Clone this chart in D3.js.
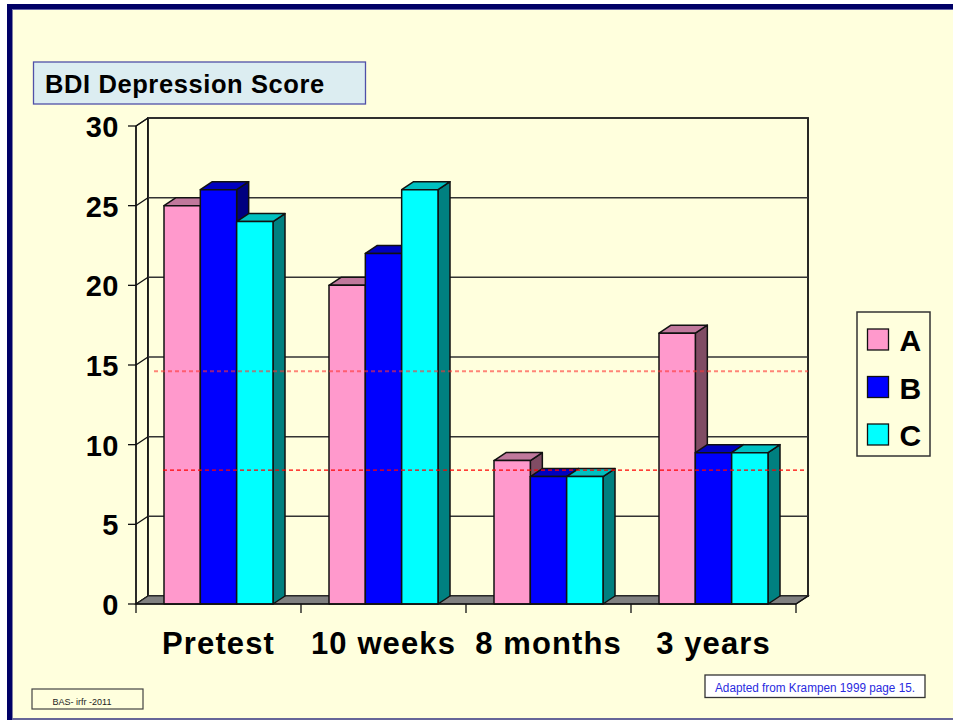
<!DOCTYPE html>
<html>
<head>
<meta charset="utf-8">
<script src="https://cdn.jsdelivr.net/npm/d3@7"></script>
<style>
  body { margin: 0; background: #fff; }
  svg { display: block; font-family: "Liberation Sans", Arial, sans-serif; }
</style>
</head>
<body>
<svg width="953" height="720"></svg>
<script>
// data
var categories = ["Pretest", "10 weeks", "8 months", "3 years"];
var seriesNames = ["A", "B", "C"];
var valuesA = [25, 20, 9, 17];
var valuesB = [26, 22, 8, 9.5];
var valuesC = [24, 26, 8, 9.5];
var yTicks = [0, 5, 10, 15, 20, 25, 30];
var refLines = [14.6, 8.4];

var frontColors = {A: "#ff99cc", B: "#0000ff", C: "#00ffff"};
var topColors = {A: "#c0789c", B: "#0000c0", C: "#00c0c0"};
var sideColors = {A: "#804c64", B: "#000080", C: "#008080"};

// 3d depth offset
var dx = 12, dy = -8;

var svg = d3.select("svg");

// frame
svg.append("rect").attr("x", 7).attr("y", 4).attr("width", 946).attr("height", 716).attr("fill", "#000066");
svg.append("rect").attr("x", 12.5).attr("y", 9).attr("width", 941).attr("height", 709).attr("fill", "#ffffdd");
svg.append("line").attr("x1", 12).attr("x2", 953).attr("y1", 719).attr("y2", 719)
    .attr("stroke", "#8888aa").attr("stroke-width", 1.5);
svg.append("line").attr("x1", 12.5).attr("x2", 953).attr("y1", 9.5).attr("y2", 9.5)
    .attr("stroke", "#6666aa").attr("stroke-width", 1);

var x = d3.scaleBand().domain(categories).range([136, 796]);
var xs = d3.scaleBand().domain(seriesNames).range([28, 137]);
var y = d3.scaleLinear().domain([0, 30]).range([604, 126]);

var x0 = x.range()[0], x1 = x.range()[1];

// walls
svg.append("polygon")
    .attr("points", [[x0, y(30)], [x0 + dx, y(30) + dy], [x0 + dx, y(0) + dy], [x0, y(0)]].join(" "))
    .attr("fill", "#ffffdd").attr("stroke", "#222").attr("stroke-width", 1.2);
svg.append("rect")
    .attr("x", x0 + dx).attr("y", y(30) + dy)
    .attr("width", x1 - x0).attr("height", y(0) - y(30))
    .attr("fill", "#ffffdd").attr("stroke", "#111").attr("stroke-width", 1.8);

// gridlines
yTicks.forEach(function(v) {
    svg.append("line")
        .attr("x1", x0 + dx).attr("x2", x1 + dx)
        .attr("y1", y(v) + dy).attr("y2", y(v) + dy)
        .attr("stroke", "#333").attr("stroke-width", 1.5);
    svg.append("line")
        .attr("x1", x0).attr("x2", x0 + dx)
        .attr("y1", y(v)).attr("y2", y(v) + dy)
        .attr("stroke", "#111").attr("stroke-width", 1.3);
    svg.append("line")
        .attr("x1", x0 - 8).attr("x2", x0)
        .attr("y1", y(v)).attr("y2", y(v))
        .attr("stroke", "#111").attr("stroke-width", 1.3);
    svg.append("text")
        .attr("x", 119).attr("y", y(v) + 11)
        .attr("text-anchor", "end")
        .attr("font-size", 29).attr("font-weight", "bold")
        .attr("letter-spacing", 0.5)
        .text(v);
});

// floor
svg.append("polygon")
    .attr("points", [[x0, y(0)], [x0 + dx, y(0) + dy], [x1 + dx, y(0) + dy], [x1, y(0)]].join(" "))
    .attr("fill", "#808080").attr("stroke", "#222").attr("stroke-width", 1.2);

// left axis line
svg.append("line").attr("x1", x0).attr("x2", x0).attr("y1", y(30)).attr("y2", y(0))
    .attr("stroke", "#111").attr("stroke-width", 1.5);

// bars
var allValues = {A: valuesA, B: valuesB, C: valuesC};
categories.forEach(function(cat, i) {
    seriesNames.forEach(function(s) {
        var v = allValues[s][i];
        var bx = x(cat) + xs(s), bw = xs.bandwidth();
        var by = y(v), bb = y(0);
        var g = svg.append("g").attr("stroke", "#111").attr("stroke-width", 1.5).attr("stroke-linejoin", "round");
        g.append("polygon")
            .attr("points", [[bx + bw, by], [bx + bw + dx, by + dy], [bx + bw + dx, bb + dy], [bx + bw, bb]].join(" "))
            .attr("fill", sideColors[s]);
        g.append("polygon")
            .attr("points", [[bx, by], [bx + dx, by + dy], [bx + bw + dx, by + dy], [bx + bw, by]].join(" "))
            .attr("fill", topColors[s]);
        g.append("rect")
            .attr("x", bx).attr("y", by).attr("width", bw).attr("height", bb - by)
            .attr("fill", frontColors[s]);
    });
});

// front base line and category ticks
svg.append("line").attr("x1", x0).attr("x2", x1).attr("y1", y(0)).attr("y2", y(0))
    .attr("stroke", "#111").attr("stroke-width", 1.5);
svg.append("line").attr("x1", x1).attr("x2", x1 + dx).attr("y1", y(0)).attr("y2", y(0) + dy)
    .attr("stroke", "#111").attr("stroke-width", 1.5);
categories.forEach(function(cat) {
    var tx = x(cat) + x.bandwidth();
    svg.append("line").attr("x1", tx).attr("x2", tx).attr("y1", y(0)).attr("y2", y(0) + 9)
        .attr("stroke", "#111").attr("stroke-width", 1.3);
    svg.append("text")
        .attr("x", x(cat) + x.bandwidth() / 2).attr("y", 654)
        .attr("text-anchor", "middle")
        .attr("font-size", 31).attr("font-weight", "bold")
        .attr("letter-spacing", 1.1)
        .text(cat);
});
svg.append("line").attr("x1", x0).attr("x2", x0).attr("y1", y(0)).attr("y2", y(0) + 9)
    .attr("stroke", "#111").attr("stroke-width", 1.3);

// reference dashed lines
svg.append("line")
    .attr("x1", 154).attr("x2", x1 + dx).attr("y1", y(refLines[0])).attr("y2", y(refLines[0]))
    .attr("stroke", "#ff3333").attr("stroke-opacity", 0.6).attr("stroke-width", 2)
    .attr("stroke-dasharray", "4,3");
svg.append("line")
    .attr("x1", 163).attr("x2", x1 + dx - 2).attr("y1", y(refLines[1])).attr("y2", y(refLines[1]))
    .attr("stroke", "#ff0000").attr("stroke-width", 1.3)
    .attr("stroke-dasharray", "4,3");

// title box
svg.append("rect").attr("x", 33.5).attr("y", 62).attr("width", 332).attr("height", 42)
    .attr("fill", "#dcedf1").attr("stroke", "#5050a8").attr("stroke-width", 1.3);
svg.append("text").attr("x", 45).attr("y", 93)
    .attr("font-size", 25.5).attr("font-weight", "bold")
    .attr("letter-spacing", 0.6)
    .text("BDI Depression Score");

// legend
svg.append("rect").attr("x", 857).attr("y", 312).attr("width", 73).attr("height", 144)
    .attr("fill", "#ffffdd").attr("stroke", "#333").attr("stroke-width", 1.5);
seriesNames.forEach(function(s, i) {
    var ly = 329 + i * 47.5;
    svg.append("rect").attr("x", 867.5).attr("y", ly).attr("width", 21).attr("height", 21)
        .attr("fill", frontColors[s]).attr("stroke", "#111").attr("stroke-width", 1.3);
    svg.append("text").attr("x", 899.5).attr("y", ly + 22)
        .attr("font-size", 30).attr("font-weight", "bold")
        .text(s);
});

// footer boxes
svg.append("rect").attr("x", 32).attr("y", 689).attr("width", 111).attr("height", 20)
    .attr("fill", "#ffffdd").attr("stroke", "#444").attr("stroke-width", 1.2);
svg.append("text").attr("x", 82).attr("y", 705).attr("text-anchor", "middle")
    .attr("font-size", 9).attr("fill", "#222")
    .text("BAS- irfr -2011");

svg.append("rect").attr("x", 705).attr("y", 675).attr("width", 220).attr("height", 22.5)
    .attr("fill", "#ffffff").attr("stroke", "#333").attr("stroke-width", 1.3);
svg.append("text").attr("x", 715).attr("y", 691.5)
    .attr("font-size", 12.5).attr("fill", "#2a2ae0")
    .attr("textLength", 200).attr("lengthAdjust", "spacingAndGlyphs")
    .text("Adapted from Krampen 1999 page 15.");
</script>
</body>
</html>
